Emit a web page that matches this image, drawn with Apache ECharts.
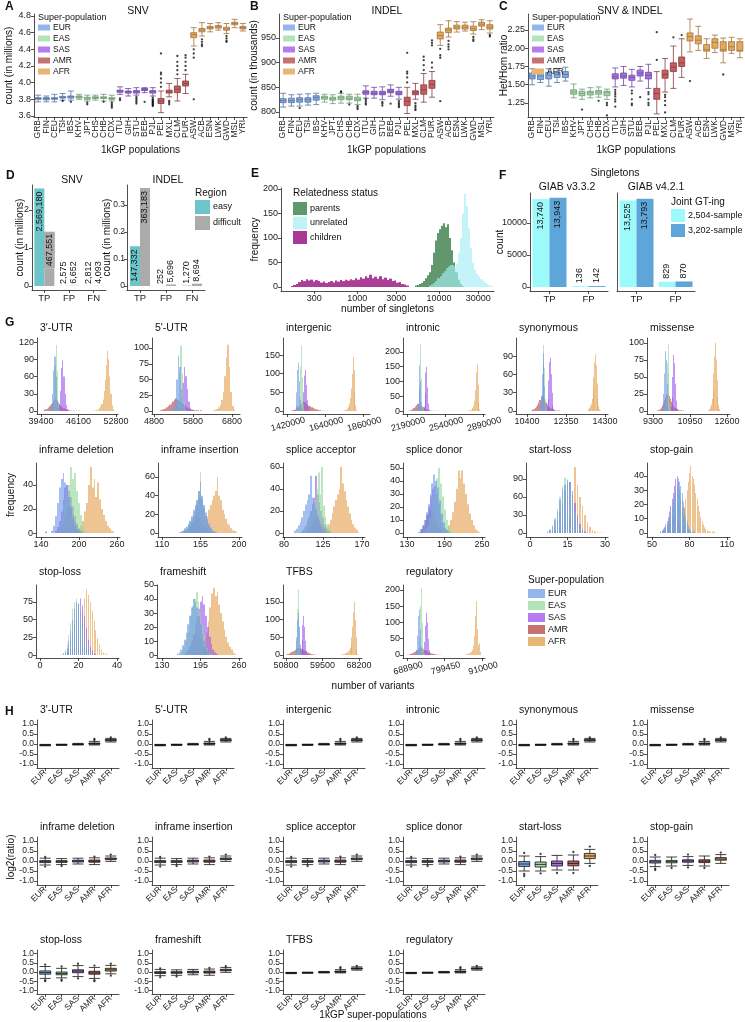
<!DOCTYPE html>
<html><head><meta charset="utf-8">
<script src="https://cdn.jsdelivr.net/npm/echarts@6/dist/echarts.min.js"></script>
<style>html,body{margin:0;padding:0;background:#fff}#c{width:745px;height:1022px}</style>
</head><body><div id="c"></div>
<script>
const FONT = 'Liberation Sans, Arial, sans-serif';
// ---------- Panels A-C ----------
const POPS = ['GRB','FIN','CEU','TSI','IBS','KHV','JPT','CHS','CHB','CDX','ITU','GIH','STU','BEB','PJL','PEL','MXL','CLM','PUR','ASW','ACB','ESN','LWK','GWD','MSL','YRI'];
const POP_GROUP = ['EUR','EUR','EUR','EUR','EUR','EAS','EAS','EAS','EAS','EAS','SAS','SAS','SAS','SAS','SAS','AMR','AMR','AMR','AMR','AFR','AFR','AFR','AFR','AFR','AFR','AFR'];
const SUPER = ['EUR','EAS','SAS','AMR','AFR'];
const SNV_BOX = [[3.77,3.80,3.81,3.82,3.85],[3.77,3.795,3.81,3.82,3.84],[3.77,3.80,3.81,3.82,3.86],[3.79,3.815,3.825,3.835,3.87],[3.79,3.815,3.83,3.84,3.90],
 [3.80,3.815,3.83,3.84,3.86],[3.78,3.80,3.815,3.825,3.85],[3.79,3.81,3.82,3.83,3.85],[3.78,3.81,3.82,3.83,3.86],[3.78,3.80,3.81,3.82,3.85],
 [3.86,3.885,3.90,3.91,3.95],[3.84,3.875,3.89,3.90,3.93],[3.85,3.875,3.89,3.905,3.94],[3.88,3.905,3.915,3.93,3.94],[3.84,3.875,3.89,3.905,3.94],
 [3.64,3.75,3.78,3.81,3.90],[3.83,3.875,3.89,3.91,3.99],[3.78,3.88,3.92,3.96,4.05],[3.87,3.96,3.99,4.02,4.10],
 [4.44,4.54,4.575,4.60,4.66],[4.56,4.61,4.63,4.65,4.72],[4.61,4.645,4.66,4.675,4.71],[4.63,4.655,4.67,4.685,4.72],[4.59,4.63,4.645,4.665,4.71],[4.66,4.695,4.71,4.725,4.76],[4.62,4.645,4.66,4.675,4.71]];
const SNV_OUT = [['TSI',[3.78]],['IBS',[3.77]],['JPT',[3.76,3.74]],['CHB',[3.77]],['CDX',[3.76,3.74,3.72,3.70]],['ITU',[3.81,3.79]],['STU',[3.83,3.81,3.79,3.77,3.75]],['BEB',[3.77]],['PJL',[3.82,3.80,3.79,3.78,3.77,3.76,3.75,3.74,3.73,3.72]],['PEL',[3.95,4.0,4.05,4.1,4.12,4.35]],['MXL',[3.78,3.76,3.74]],['CLM',[4.1,4.15,4.2,4.25,4.32]],['PUR',[4.15,4.2,4.25,4.3,4.33]],['ASW',[4.4,4.35,4.3,3.80]],['ACB',[4.52,4.49,4.46,4.44]],['GWD',[4.56,4.53,4.50,4.49]]];
const INDEL_BOX = [[810,819,823,827,838],[812,819,823,828,835],[812,820,825,829,836],[814,820,825,829,837],[815,824,829,833,838],
 [820,826,829,832,836],[817,824,827,830,835],[818,825,829,832,838],[818,825,828,832,836],[815,823,826,830,836],
 [828,836,840,843,853],[828,835,838,842,850],[825,835,838,842,851],[832,839,842,846,855],[826,835,838,842,850],
 [797,813,822,830,850],[826,835,839,843,858],[820,836,845,855,878],[830,848,856,864,882],
 [935,948,955,962,977],[952,961,966,970,985],[962,968,972,976,983],[964,968,972,976,982],[958,965,969,974,983],[967,974,978,982,987],[960,968,972,977,985]];
const INDEL_OUT = [['CEU',[808]],['CHS',[840,842]],['CHB',[815]],['CDX',[812,809,806]],['ITU',[826,822,818,815]],['STU',[820,817,813]],['BEB',[817]],['PJL',[822,818,815,812,810]],['PEL',[860,870,878,882,920]],['MXL',[818,813,810,806,804]],['CLM',[885,895,905,912]],['PUR',[890,900,935,940,945]],['ASW',[928,915,910,822]],['ACB',[944,937,932,927]],['GWD',[952,947,944]],['YRI',[956,953]]];
const RATIO_BOX = [[1.50,1.58,1.62,1.66,1.72],[1.53,1.57,1.62,1.66,1.70],[1.48,1.58,1.63,1.67,1.72],[1.53,1.60,1.64,1.67,1.72],[1.55,1.60,1.64,1.68,1.74],
 [1.32,1.37,1.40,1.43,1.51],[1.30,1.35,1.38,1.41,1.44],[1.32,1.36,1.39,1.41,1.46],[1.33,1.37,1.40,1.42,1.47],[1.30,1.35,1.39,1.41,1.44],
 [1.47,1.58,1.61,1.65,1.73],[1.49,1.59,1.62,1.66,1.75],[1.47,1.56,1.60,1.63,1.71],[1.55,1.62,1.66,1.70,1.75],[1.45,1.58,1.63,1.67,1.78],
 [1.10,1.30,1.38,1.45,1.68],[1.40,1.59,1.64,1.70,1.86],[1.45,1.68,1.74,1.80,2.03],[1.60,1.75,1.80,1.88,2.13],
 [1.95,2.10,2.16,2.21,2.40],[1.97,2.06,2.11,2.17,2.30],[1.86,1.96,1.98,2.05,2.13],[1.94,2.00,2.08,2.13,2.18],[1.80,1.96,1.98,2.09,2.14],[1.93,1.97,2.02,2.09,2.15],[1.87,1.96,1.97,2.09,2.13]];
const RATIO_OUT = [['JPT',[1.16]],['CHB',[1.28]],['CDX',[1.25,1.22,1.08]],['ITU',[1.43,1.40,1.37,1.34,1.30,1.27,1.20]],['STU',[1.42,1.38,1.30,1.24,1.22]],['BEB',[1.33]],['PJL',[1.40,1.37,1.30,1.25,1.22]],['PEL',[1.84,2.22]],['MXL',[1.36,1.33,1.28,1.22,1.12]],['CLM',[2.15]],['PUR',[2.18]],['ASW',[1.55]],['GWD',[1.64]]];
const SNV_TICKS = [3.6,3.8,4.0,4.2,4.4,4.6,4.8];
const INDEL_TICKS = [800,850,900,950];
const RATIO_TICKS = [1.25,1.5,1.75,2.0,2.25];
// ---------- Panel D ----------
const D_CATS = ['TP','FP','FN'];
const D_SNV_EASY = [2569180,2575,2812];
const D_SNV_DIFF = [467551,6652,4093];
const D_INDEL_EASY = [147332,252,1270];
const D_INDEL_DIFF = [363183,5696,8694];
// ---------- Panel E (log10 bins) ----------
const E_CHILDREN = [2.19,0.03,[2,4,6,10,14,12,16,13,15,11,14,12,9,11,8,10,12,9,13,11,14,12,15,13,16,14,18,15,20,17,22,19,25,18,21,17,22,16,19,14,17,12,13,9,10,6,5,3]];
const E_PARENTS = [3.70,0.025,[3,4,6,8,12,18,24,30,45,70,95,110,118,125,130,122,128,100,75,50,30,15,6,2]];
const E_UNRELATED = [3.88,0.025,[3,5,8,12,18,22,28,32,38,42,45,45,42,48,70,100,150,190,165,120,80,50,35,28,22,16,12,8,5,3,2]];
const E_TICKS = [300,1000,3000,10000,30000];
// ---------- Panel F ----------
const F_CATS = ['TP','FP'];
const F_V332_2504 = [13740,136], F_V332_3202 = [13943,142];
const F_V421_2504 = [13525,829], F_V421_3202 = [13793,870];
// ---------- Panel G histograms: [binStart, binWidth, counts] ----------
const G_UTR3 = {EUR:[41000,200,[2,8,30,70,95,60,20,6,2]],EAS:[41400,200,[3,20,80,115,70,15,3]],SAS:[42400,200,[3,10,35,75,88,60,30,10,3]],AMR:[39800,200,[1,2,3,4,6,8,10,12,14,16,20,18,17,15,12,10,8,6,5,4,3,2,2,1,1,1,0,1,0,1,0,0,1]],AFR:[48600,200,[1,0,1,2,1,3,5,8,12,20,35,55,80,105,90,60,30,10,3]]};
const G_UTR5 = {EUR:[5250,40,[2,6,20,50,88,70,35,12,4,1]],EAS:[5350,40,[3,15,60,103,60,15,3]],SAS:[5400,40,[2,6,20,45,70,55,35,15,5,2]],AMR:[4950,40,[1,2,3,4,6,8,10,12,15,18,20,18,16,14,12,10,8,6,4,3,2,2,1,1,1,0,1]],AFR:[6320,40,[1,2,3,6,10,18,30,55,85,105,70,30,8,2]]};
const G_INTERGENIC = {EUR:[1465000,5000,[3,15,50,110,130,80,30,8,2]],EAS:[1485000,5000,[5,40,120,175,90,20,4]],SAS:[1505000,5000,[3,15,50,95,110,70,30,10,3]],AMR:[1440000,8000,[1,2,3,5,7,10,14,18,22,25,24,20,17,14,12,10,8,6,5,4,3,2,1,1,1,0,1]],AFR:[1740000,5000,[1,1,2,3,4,5,8,12,20,35,60,100,145,110,50,15,3]]};
const G_INTRONIC = {EUR:[2280000,8000,[3,20,80,155,100,30,5]],EAS:[2295000,8000,[5,60,225,110,15,2]],SAS:[2335000,8000,[3,15,60,130,150,80,25,5]],AMR:[2200000,12000,[1,2,4,6,10,15,20,25,24,22,18,14,10,7,5,3,2,1,1,1,0,1,0,1]],AFR:[2736000,8000,[1,1,2,2,3,4,6,10,18,35,70,130,158,90,30,6]]};
const G_SYN = {EUR:[11020,40,[2,8,25,60,95,80,40,12,3]],EAS:[11100,40,[3,15,60,108,70,20,4]],SAS:[11350,40,[2,6,20,50,80,87,60,30,10,3]],AMR:[10600,60,[1,2,3,5,7,10,14,18,22,25,22,18,14,11,8,6,5,4,3,2,1,1,1,1]],AFR:[13400,40,[1,2,3,5,8,12,20,35,55,80,93,75,45,20,8,3,1]]};
const G_MIS = {EUR:[9695,35,[2,8,25,55,88,75,40,12,3]],EAS:[9850,35,[3,18,70,98,55,12,2]],SAS:[10060,35,[2,6,20,50,82,70,40,15,4]],AMR:[9500,50,[1,2,3,5,8,12,16,20,24,25,22,18,14,10,7,5,4,3,2,1,1,1,0,1]],AFR:[11750,35,[1,2,3,6,10,18,30,55,80,100,75,45,20,8,3]]};
const G_DEL = {EUR:[156,3,[2,6,14,25,38,45,50,42,40,30,22,12,6,3,1]],EAS:[165,3,[1,3,8,15,25,35,40,55,45,50,35,25,15,8,3,1]],SAS:[162,3,[2,5,10,18,28,38,40,35,30,22,14,8,4,2,1]],AMR:[147,3,[1,0,0,0,0,0,1,3,6,10,15,20,22,20,15,10,6,3,2,1]],AFR:[196,3,[1,3,6,10,18,25,40,55,38,45,30,42,28,20,15,10,6,4,2,1]]};
const G_INS = {EUR:[130,2,[1,2,3,5,7,10,13,18,25,30,35,45,55,40,30,22,15,10,6,3,2,1]],EAS:[132,2,[1,2,4,6,9,12,16,22,28,35,45,65,38,28,18,12,7,4,2,1]],SAS:[134,2,[1,2,3,5,8,12,18,24,30,38,42,35,26,18,12,7,4,2,1]],AMR:[136,2,[1,2,4,6,9,12,15,18,16,13,10,7,5,3,2,1]],AFR:[150,2,[1,2,4,6,8,12,18,25,30,35,40,45,60,40,35,25,20,15,10,8,5,3,2,1]]};
const G_ACC = {EUR:[92,2,[2,4,7,10,14,20,26,30,35,52,32,28,22,16,10,6,3,1]],EAS:[99,2,[1,3,5,8,12,16,20,25,30,40,55,35,60,25,15,8,4,2,1]],SAS:[100,2,[1,3,6,10,14,20,26,32,52,35,28,20,14,8,4,2,1]],AMR:[104,2,[1,2,4,7,10,13,15,14,12,9,6,4,2,1]],AFR:[125,2,[1,3,5,8,12,18,24,30,35,40,60,45,38,30,24,18,12,8,5,3,1]]};
const G_DON = {EUR:[148,3,[1,3,6,10,16,22,30,38,45,40,35,25,15,8,4,2,1]],EAS:[156,3,[1,3,6,12,20,28,35,42,50,38,28,18,10,5,2,1]],SAS:[152,3,[2,4,8,14,20,28,34,36,30,22,14,8,4,2,1]],AMR:[150,3,[1,3,6,10,14,17,18,15,11,7,4,2,1]],AFR:[190,3,[1,3,6,10,16,24,34,48,42,48,38,30,22,15,10,6,3,2,1]]};
const G_STARTLOSS = {EUR:[7,1,[3,6,12,22,35,55,72,80,88,85,62,40,22,10,4,2,1]],EAS:[7,1,[2,5,12,25,40,60,78,92,90,80,58,35,18,8,3,1]],SAS:[8,1,[2,5,10,20,34,52,70,82,85,70,50,30,15,6,2,1]],AMR:[9,1,[1,3,6,10,15,20,24,26,22,16,10,6,3,1]],AFR:[11,1,[1,2,4,8,15,28,45,110,80,60,45,30,18,10,5,3,2,1,1]]};
const G_STOPGAIN = {EUR:[57,1,[1,1,2,3,4,6,8,11,14,18,22,26,30,34,38,36,33,28,22,17,12,8,5,3,2,1,1,1]],EAS:[58,1,[1,2,3,4,6,8,11,14,18,22,26,30,33,34,32,28,24,18,13,9,6,4,2,1]],SAS:[57,1,[1,2,3,4,6,8,11,15,19,24,28,33,38,40,36,30,24,18,13,9,6,4,2,1,1]],AMR:[60,1,[1,2,3,4,6,8,10,12,13,12,10,8,6,4,3,2,1,1]],AFR:[70,1,[1,2,4,6,9,13,18,24,30,36,42,47,40,38,34,28,24,19,15,11,8,6,4,3,2,1,1,1,1,1,1]]};
const G_STOPLOSS = {EUR:[12,1,[2,5,10,20,35,50,65,75,72,60,45,30,18,8,4,2,1]],EAS:[11,1,[1,3,7,15,28,45,65,75,80,70,55,38,22,12,5,2,1]],SAS:[13,1,[2,5,10,20,32,48,62,72,80,70,55,38,22,12,6,2,1]],AMR:[13,1,[1,2,5,9,14,20,25,28,25,20,14,9,5,2,1]],AFR:[14,1,[1,2,4,8,14,22,32,45,62,80,93,85,75,62,48,35,24,15,8,4,2,1]]};
const G_FRAME = {EUR:[155,3,[1,2,4,7,11,16,22,28,34,40,38,34,28,22,15,10,6,3,1]],EAS:[160,3,[1,3,6,10,16,22,28,35,40,45,38,30,22,15,9,5,2,1]],SAS:[170,3,[1,3,6,10,15,21,27,33,38,42,36,28,20,13,8,4,2,1]],AMR:[168,3,[1,2,4,7,10,13,15,14,12,9,6,4,2,1]],AFR:[192,3,[1,3,6,10,16,24,34,44,48,42,45,36,30,24,18,13,9,6,4,2,1]]};
const G_TFBS = {EUR:[52900,200,[3,15,50,100,120,80,30,8,2]],EAS:[53000,200,[5,40,130,185,80,15,3]],SAS:[54100,200,[3,12,40,85,110,80,40,12,3]],AMR:[50800,300,[1,3,4,6,8,10,12,15,18,20,22,20,18,15,13,11,9,7,5,4,3,2,1,1,1,0,1]],AFR:[63800,200,[1,1,2,2,3,4,5,6,8,10,14,20,30,50,80,120,150,100,50,15,3]]};
const G_REG = {EUR:[712000,3000,[3,15,60,120,140,80,25,5]],EAS:[720000,3000,[5,50,150,205,100,20,4]],SAS:[733000,3000,[3,12,40,90,130,100,50,15,3]],AMR:[690000,5000,[1,2,4,6,10,14,18,22,20,18,15,12,9,7,5,3,2,1,1,1]],AFR:[856000,3000,[1,1,2,3,4,6,8,10,15,30,60,120,165,80,30,35,10]]};
// ---------- Panel H boxes [min,Q1,median,Q3,max] for EUR,EAS,SAS,AMR,AFR ----------
const H_SMALL = [[-0.09,-0.065,-0.05,-0.04,-0.02],[-0.07,-0.05,-0.035,-0.025,-0.01],[-0.05,-0.025,-0.01,0.0,0.03],[-0.05,-0.01,0.02,0.05,0.13],[0.10,0.16,0.19,0.22,0.28]];
const H_SMALL_OUT = [['AMR',[0.2,0.26]],['AFR',[0.33]]];
const H_STARTLOSS = [[-0.5,-0.27,-0.15,-0.03,0.25],[-0.5,-0.3,-0.17,-0.05,0.22],[-0.45,-0.25,-0.12,0.0,0.28],[-0.45,-0.24,-0.12,0.0,0.3],[-0.12,0.12,0.25,0.38,0.58]];
const H_STARTLOSS_OUT = [['EUR',[-0.65,-0.75,0.4]],['EAS',[-0.62,0.35]],['SAS',[-0.6]],['AMR',[-0.6,0.45]],['AFR',[0.72,-0.25]]];
const H_STOPGAIN = [[-0.28,-0.1,-0.04,0.03,0.2],[-0.25,-0.09,-0.03,0.03,0.2],[-0.22,-0.06,0.0,0.06,0.22],[-0.25,-0.08,-0.01,0.06,0.25],[-0.12,0.04,0.1,0.17,0.32]];
const H_STOPGAIN_OUT = [['EUR',[-0.38,-0.45,0.3]],['EAS',[-0.35]],['SAS',[-0.32,0.32]],['AMR',[-0.35]],['AFR',[0.42]]];
const H_STOPLOSS = [[-0.35,-0.12,-0.03,0.06,0.3],[-0.32,-0.15,-0.08,0.0,0.2],[-0.25,-0.04,0.05,0.12,0.35],[-0.35,-0.12,-0.05,0.04,0.25],[-0.1,0.05,0.12,0.2,0.36]];
const H_STOPLOSS_OUT = [['EUR',[-0.45,-0.5,0.4]],['EAS',[-0.42,-0.48,0.3]],['SAS',[-0.35,0.45]],['AMR',[-0.45,-0.5,0.35]],['AFR',[0.45,-0.2]]];
const H_FRAME = [[-0.2,-0.08,-0.03,0.02,0.14],[-0.18,-0.07,-0.03,0.02,0.12],[-0.15,-0.05,0.0,0.04,0.14],[-0.18,-0.06,-0.01,0.05,0.16],[-0.02,0.07,0.11,0.15,0.25]];
const H_FRAME_OUT = [['EUR',[-0.28,0.2]],['EAS',[-0.25]],['AMR',[0.22]],['AFR',[0.32]]];
const H_Y_TICKS = [-1,-0.5,0,0.5,1];

// ---------- colours ----------
const BOX_FILL = {EUR:'#86A9E6',EAS:'#A5D9A8',SAS:'#A86FE6',AMR:'#C55E62',AFR:'#E4A95F'};
const BOX_EDGE = {EUR:'#55729F',EAS:'#6E9A72',SAS:'#6E47A0',AMR:'#853B3E',AFR:'#A5743A'};
const HIST_COL = {EUR:'#6E98E8',EAS:'#8FD89A',SAS:'#9D55EC',AMR:'#B24848',AFR:'#E3A14F'};
const LEG_COL = {EUR:'#94B4EE',EAS:'#B3E3B9',SAS:'#B57BEF',AMR:'#C47272',AFR:'#E9B575'};

// ---------- helpers ----------
const grids=[], xAxes=[], yAxes=[], series=[], graphics=[], legends=[];
function mg(a,b){for(const k in b){const v=b[k];if(v&&typeof v==='object'&&!Array.isArray(v)&&a[k]&&typeof a[k]==='object'&&!Array.isArray(a[k]))mg(a[k],v);else a[k]=v;}return a;}
function axisBase(){return {nameMoveOverlap:false,axisLine:{show:true,onZero:false,lineStyle:{color:'#222',width:0.8}},axisTick:{show:true,length:3,lineStyle:{color:'#222',width:0.8}},axisLabel:{color:'#222',fontSize:9,margin:3,fontFamily:FONT,hideOverlap:false},splitLine:{show:false},nameTextStyle:{color:'#111',fontSize:10,fontFamily:FONT}};}
function valAxis(min,max,ticks,extra){return mg(mg(axisBase(),{type:'value',min,max,axisTick:{customValues:ticks},axisLabel:{customValues:ticks,formatter:v=>String(v)}}),extra||{});}
function catAxis(data,extra){return mg(mg(axisBase(),{type:'category',data,axisTick:{alignWithLabel:true},axisLabel:{interval:0}}),extra||{});}
function addGrid(l,t,r,b,xa,ya){const i=grids.length;grids.push({left:l,top:t,width:r-l,height:b-t});xa.gridIndex=i;ya.gridIndex=i;xAxes.push(xa);yAxes.push(ya);return i;}
function txt(x,y,text,size,opt){opt=opt||{};graphics.push({type:'text',x,y,rotation:opt.rot||0,silent:true,style:{text,fill:'#111',fontSize:size,fontFamily:FONT,fontWeight:opt.bold?'bold':'normal',align:opt.align||'center',verticalAlign:'middle'}});}
function legend(left,top,names,colors,o){legends.push({orient:'vertical',left,top,padding:0,icon:'rect',selectedMode:false,itemWidth:o.w,itemHeight:o.h,itemGap:o.gap,textStyle:{fontSize:o.fs,color:'#111',fontFamily:FONT,lineHeight:o.lh||o.fs,padding:[0,0,0,-2]},data:names.map(n=>({name:n,itemStyle:{color:colors[n],borderWidth:0}}))});}
function boxSeries(gi,groups,boxes,outliers,bw,edge){
  series.push({type:'boxplot',xAxisIndex:gi,yAxisIndex:gi,boxWidth:[bw,bw],silent:true,
    data:boxes.map((b,k)=>({value:b,itemStyle:{color:BOX_FILL[groups[k]],borderColor:edge?edge:BOX_EDGE[groups[k]],borderWidth:0.8}}))});
  const pts=[];outliers.forEach(([c,vals])=>vals.forEach(v=>pts.push([c,v])));
  series.push({type:'scatter',xAxisIndex:gi,yAxisIndex:gi,symbolSize:2.3,itemStyle:{color:'#111'},data:pts,silent:true});
}
function histSeries(gi,name,spec,color,opacity,frac,centered){
  const [start,w,counts]=spec; const f=frac||1; const off=centered?w*f/2:0;
  const data=counts.map((c,i)=>[start+i*w-off,start+i*w-off+w*f,c]);
  series.push({type:'custom',name,xAxisIndex:gi,yAxisIndex:gi,silent:true,clip:true,data,encode:{x:[0,1],y:2},
    renderItem:(p,api)=>{const a=api.coord([api.value(0),api.value(2)]);const b=api.coord([api.value(1),0]);
      const x0=Math.round(a[0]), x1=Math.round(b[0]);
      return {type:'rect',shape:{x:x0,y:a[1],width:Math.max(x1-x0,1),height:b[1]-a[1]},style:{fill:color,opacity}};}});
}

// ---------- A, B, C ----------
const ABC = [
 {l:34,r:247,min:3.588,max:4.824,ticks:SNV_TICKS,fmt:v=>v.toFixed(1),box:SNV_BOX,out:SNV_OUT,yname:'count (in millions)',ngap:20,title:'SNV',tx:138,letter:'A',lx:5},
 {l:279,r:494,min:789.9,max:998.6,ticks:INDEL_TICKS,fmt:v=>String(v),box:INDEL_BOX,out:INDEL_OUT,yname:'count (in thousands)',ngap:20,title:'INDEL',tx:387,letter:'B',lx:250},
 {l:528,r:744,min:1.058,max:2.469,ticks:RATIO_TICKS,fmt:v=>v.toFixed(2),box:RATIO_BOX,out:RATIO_OUT,yname:'Het/Hom ratio',ngap:19,title:'SNV & INDEL',tx:630,letter:'C',lx:499}
];
ABC.forEach(p=>{
  const gi=addGrid(p.l,14,p.r,117,
    catAxis(POPS,{axisLabel:{rotate:90,fontSize:8.5,margin:3},name:'1kGP populations',nameLocation:'middle',nameGap:28}),
    valAxis(p.min,p.max,p.ticks,{axisLabel:{formatter:p.fmt},name:p.yname,nameLocation:'middle',nameGap:p.ngap}));
  boxSeries(gi,POP_GROUP,p.box,p.out,6);
  txt(p.tx,11,p.title,10.5);
  txt(p.lx,7,p.letter,12,{bold:true,align:'left'});
  txt(p.l+4,18,'Super-population',9,{align:'left'});
  legend(p.l+4,23,SUPER,LEG_COL,{w:12,h:6,gap:2,fs:8.5,lh:6});
});

// ---------- D ----------
function dBars(gi,easy,diff,scale,diffLabelBg){
  const lab=(arr)=>({show:true,rotate:90,fontSize:9,color:'#111',fontFamily:FONT,formatter:p=>arr[p.dataIndex].toLocaleString('en-US')});
  const inside={position:'insideTop',align:'right',verticalAlign:'middle',distance:3};
  const above={position:'top',align:'left',verticalAlign:'middle',distance:2};
  series.push({type:'bar',name:'easy',xAxisIndex:gi,yAxisIndex:gi,barWidth:10,barGap:'0%',itemStyle:{color:'#6CC5C8'},label:lab(easy),silent:true,
    data:easy.map((v,k)=>({value:v/scale,label:k===0?inside:above}))});
  series.push({type:'bar',name:'difficult',xAxisIndex:gi,yAxisIndex:gi,barWidth:10,barGap:'0%',itemStyle:{color:'#ABABAB'},label:lab(diff),silent:true,
    data:diff.map((v,k)=>({value:v/scale,label:k===0?(diffLabelBg?Object.assign({},above,{distance:0,backgroundColor:'#ABABAB',padding:[1,2]}):inside):above}))});
}
let gi=addGrid(32,185,106,290,catAxis(D_CATS,{axisLabel:{fontSize:9.5}}),valAxis(-0.105,2.658,[0,1,2],{name:'count (in millions)',nameLocation:'middle',nameGap:7}));
dBars(gi,D_SNV_EASY,D_SNV_DIFF,1e6,true);
gi=addGrid(127,185,205,290,catAxis(D_CATS,{axisLabel:{fontSize:9.5}}),valAxis(-0.0148,0.374,[0,0.1,0.2,0.3],{axisLabel:{formatter:v=>v===0?'0':v.toFixed(1),fontSize:8.5,margin:2},name:'count (in millions)',nameLocation:'middle',nameGap:15}));
dBars(gi,D_INDEL_EASY,D_INDEL_DIFF,1e6,false);
txt(72,180,'SNV',10.5); txt(168,180,'INDEL',10.5);
txt(6,176,'D',12,{bold:true,align:'left'});
txt(195,193,'Region',10,{align:'left'});
legend(195,200,['easy','difficult'],{easy:'#6CC5C8',difficult:'#ABABAB'},{w:15,h:14,gap:2,fs:9});

// ---------- E ----------
gi=addGrid(281,188,494,291,
  valAxis(2.071,4.67,E_TICKS.map(v=>Math.log10(v)),{axisLabel:{formatter:v=>String(Math.round(Math.pow(10,v))),fontSize:9},name:'number of singletons',nameLocation:'middle',nameGap:13}),
  valAxis(-8.2,202,[0,50,100,150,200],{name:'frequency',nameLocation:'middle',nameGap:21}));
histSeries(gi,'children',E_CHILDREN,'#A63592',0.95);
histSeries(gi,'parents',E_PARENTS,'#4F8C5C',0.9);
histSeries(gi,'unrelated',E_UNRELATED,'#A6EEF4',0.65);
txt(251,174,'E',12,{bold:true,align:'left'});
txt(293,193,'Relatedness status',10,{align:'left'});
legend(293,202,['parents','unrelated','children'],{parents:'#5C9A6A',unrelated:'#C0F2F6',children:'#A63A94'},{w:14,h:13,gap:1.5,fs:9});

// ---------- F ----------
function fBars(gi,a,b){
  const lab=(arr)=>({show:true,rotate:90,fontSize:9,color:'#111',fontFamily:FONT,formatter:p=>arr[p.dataIndex].toLocaleString('en-US')});
  const mk=(arr)=>arr.map((v,k)=>({value:v,label:k===0?{position:'insideTop',align:'right',verticalAlign:'middle',distance:3}:{position:'top',align:'left',verticalAlign:'middle',distance:3}}));
  series.push({type:'bar',name:'2,504-sample',xAxisIndex:gi,yAxisIndex:gi,barWidth:17,barGap:'0%',itemStyle:{color:'#9CFAFA'},label:lab(a),data:mk(a),silent:true});
  series.push({type:'bar',name:'3,202-sample',xAxisIndex:gi,yAxisIndex:gi,barWidth:17,barGap:'0%',itemStyle:{color:'#5EA6DA'},label:lab(b),data:mk(b),silent:true});
}
gi=addGrid(530,193,608,291,catAxis(F_CATS,{axisLabel:{fontSize:9.5}}),valAxis(-625,14690,[0,5000,10000],{name:'count',nameLocation:'middle',nameGap:25}));
fBars(gi,F_V332_2504,F_V332_3202);
gi=addGrid(617,193,695,291,catAxis(F_CATS,{axisLabel:{fontSize:9.5}}),valAxis(-625,14690,[0,5000,10000],{axisLabel:{show:false},axisTick:{show:false}}));
fBars(gi,F_V421_2504,F_V421_3202);
txt(615,173,'Singletons',10.5); txt(567,187,'GIAB v3.3.2',10.5); txt(656,187,'GIAB v4.2.1',10.5);
txt(499,176,'F',12,{bold:true,align:'left'});
txt(671,202,'Joint GT-ing',10,{align:'left'});
legend(671,209,['2,504-sample','3,202-sample'],{'2,504-sample':'#9CFAFA','3,202-sample':'#5EA6DA'},{w:14,h:13,gap:2,fs:9});

// ---------- G ----------
const G_ROWS = [[338,414],[463,537],[585,658]];
const G_PANELS = [
 {t:"3'-UTR",r:0,l:37,rt:118,x:[38685,53160],xt:[39400,46100,52800],y:[-5.2,127],yt:[0,30,60,90,120],h:G_UTR3},
 {t:"5'-UTR",r:0,l:152,rt:240,x:[4749,7005],xt:[4800,5800,6800],y:[-4.8,115.9],yt:[0,25,50,75,100],h:G_UTR5},
 {t:'intergenic',r:0,l:283,rt:370,x:[1397000,1900000],xt:[1420000,1640000,1860000],y:[-8,195.6],yt:[0,50,100,150],h:G_INTERGENIC,rot:true},
 {t:'intronic',r:0,l:403,rt:485,x:[2153000,2908000],xt:[2190000,2540000,2890000],y:[-10,247],yt:[0,50,100,150,200],h:G_INTRONIC,rot:true},
 {t:'synonymous',r:0,l:516,rt:608,x:[9852,14450],xt:[10400,12350,14300],y:[-4.9,119.5],yt:[0,30,60,90],h:G_SYN},
 {t:'missense',r:0,l:647,rt:730,x:[9032,12734],xt:[9300,10950,12600],y:[-4.4,107],yt:[0,25,50,75,100],h:G_MIS},
 {t:'inframe deletion',r:1,l:36,rt:120,x:[132.1,264.7],xt:[140,200,260],y:[-3.3,58.3],yt:[0,20,40],h:G_DEL},
 {t:'inframe insertion',r:1,l:158,rt:242,x:[105.3,203.5],xt:[110,155,200],y:[-4.3,75],yt:[0,20,40,60],h:G_INS},
 {t:'splice acceptor',r:1,l:283,rt:365,x:[78.8,173.5],xt:[80,125,170],y:[-3.6,63.6],yt:[0,20,40,60],h:G_ACC},
 {t:'splice donor',r:1,l:403,rt:485,x:[123.6,254.8],xt:[130,190,250],y:[-3.1,53.8],yt:[0,10,20,30,40,50],h:G_DON},
 {t:'start-loss',r:1,l:526,rt:608,x:[-1.6,31.2],xt:[0,15,30],y:[-6.7,116.7],yt:[0,30,60,90],h:G_STARTLOSS,frac:0.45,c:true},
 {t:'stop-gain',r:1,l:647,rt:730,x:[46,112.4],xt:[50,80,110],y:[-2.8,49.1],yt:[0,10,20,30,40],h:G_STOPGAIN,frac:0.75,c:true},
 {t:'stop-loss',r:2,l:36,rt:119,x:[-2.1,41],xt:[0,20,40],y:[-4.2,99],yt:[0,25,50,75],h:G_STOPLOSS,frac:0.45,c:true},
 {t:'frameshift',r:2,l:157,rt:242,x:[121.6,265],xt:[130,195,260],y:[-2.1,50],yt:[0,10,20,30,40,50],h:G_FRAME},
 {t:'TFBS',r:2,l:283,rt:362,x:[50085,68915],xt:[50800,59500,68200],y:[-8.5,198],yt:[0,50,100,150],h:G_TFBS},
 {t:'regulatory',r:2,l:403,rt:485,x:[677108,918844],xt:[688900,799450,910000],y:[-9.2,215],yt:[0,50,100,150,200],h:G_REG,rot:true}
];
const G_TITLE_Y = [328,450,572];
G_PANELS.forEach(p=>{
  const [t,b]=G_ROWS[p.r];
  const xa=valAxis(p.x[0],p.x[1],p.xt,{axisLabel:p.rot?{rotate:15,align:'center',verticalAlign:'top',margin:6,fontSize:9}:{fontSize:9}});
  const g=addGrid(p.l,t,p.rt,b,xa,valAxis(p.y[0],p.y[1],p.yt,{}));
  ['AFR','AMR','SAS','EAS','EUR'].forEach(s=>histSeries(g,s,p.h[s],HIST_COL[s],0.62,p.frac,p.c));
  txt(p.l+3,G_TITLE_Y[p.r],p.t,10.5,{align:'left'});
});
txt(5,323,'G',12,{bold:true,align:'left'});
txt(11,495,'frequency',10,{rot:Math.PI/2});
txt(373,686,'number of variants',10);
txt(528,580,'Super-population',10,{align:'left'});
legend(528,589,SUPER,LEG_COL,{w:17,h:9,gap:3,fs:9});

// ---------- H ----------
const H_NAMES = ["3'-UTR","5'-UTR",'intergenic','intronic','synonymous','missense','inframe deletion','inframe insertion','splice acceptor','splice donor','start-loss','stop-gain','stop-loss','frameshift','TFBS','regulatory'];
const H_BOXES = [H_SMALL,H_SMALL,H_SMALL,H_SMALL,H_SMALL,H_SMALL,H_FRAME,H_FRAME,H_FRAME,H_FRAME,H_STARTLOSS,H_STOPGAIN,H_STOPLOSS,H_FRAME,H_SMALL,H_SMALL];
const H_OUTS = [H_SMALL_OUT,H_SMALL_OUT,H_SMALL_OUT,H_SMALL_OUT,H_SMALL_OUT,H_SMALL_OUT,H_FRAME_OUT,H_FRAME_OUT,H_FRAME_OUT,H_FRAME_OUT,H_STARTLOSS_OUT,H_STOPGAIN_OUT,H_STOPLOSS_OUT,H_FRAME_OUT,H_SMALL_OUT,H_SMALL_OUT];
const H_LEFT = [37,152,283,403,516,647];
const H_ROWS = [[720,768],[837,885],[950,994]];
const H_TITLE_Y = [710,827,940];
H_NAMES.forEach((n,k)=>{
  const r=Math.floor(k/6), c=k%6, l=H_LEFT[c];
  const g=addGrid(l,H_ROWS[r][0],l+82,H_ROWS[r][1],catAxis(SUPER,{axisLabel:{rotate:45,fontSize:8.5,margin:3}}),valAxis(-1.2,1.2,H_Y_TICKS,{axisLabel:{formatter:v=>v.toFixed(1),fontSize:8.5}}));
  boxSeries(g,SUPER,H_BOXES[k],H_OUTS[k],11,'#111');
  txt(l+3,H_TITLE_Y[r],n,10.5,{align:'left'});
});
txt(5,712,'H',12,{bold:true,align:'left'});
txt(11,857,'log2(ratio)',10,{rot:Math.PI/2});
txt(373,1015,'1kGP super-populations',10);

const chart = echarts.init(document.getElementById('c'),null,{renderer:'canvas'});
chart.setOption({animation:false,backgroundColor:'#fff',textStyle:{fontFamily:FONT},grid:grids,xAxis:xAxes,yAxis:yAxes,series,legend:legends,graphic:{elements:graphics}});
</script></body></html>
